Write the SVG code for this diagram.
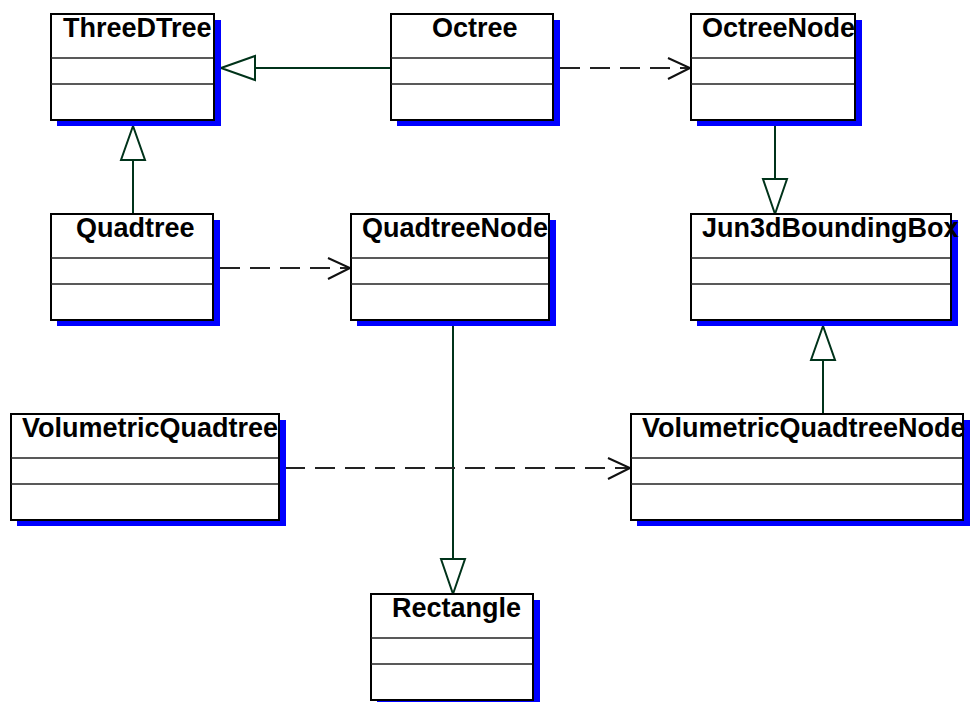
<svg xmlns="http://www.w3.org/2000/svg" width="979" height="702" viewBox="0 0 979 702">
<style>
.shadow{fill:#0000ff;stroke:none}
.box{fill:#ffffff;stroke:#000000;stroke-width:2}
.div{stroke:#222222;stroke-width:1.5}
.name{font-family:"Liberation Sans",Arial,sans-serif;font-weight:bold;font-size:27px;fill:#000000}
.gen{stroke:#00331a;stroke-width:2;fill:none}
.tri{stroke:#00331a;stroke-width:2;fill:#ffffff}
.dep{stroke:#222222;stroke-width:2;fill:none;stroke-dasharray:20,10}
.head{stroke:#111111;stroke-width:2;fill:none}
</style>
<rect width="979" height="702" fill="#ffffff"/>
<g id="connectors">
  <!-- Octree -> ThreeDTree -->
  <line class="gen" x1="255" y1="68" x2="391" y2="68"/>
  <polygon class="tri" points="221,68 255,56 255,80"/>
  <!-- Quadtree -> ThreeDTree -->
  <line class="gen" x1="133" y1="160" x2="133" y2="214"/>
  <polygon class="tri" points="133,126 121,160 145,160"/>
  <!-- OctreeNode -> Jun3dBoundingBox -->
  <line class="gen" x1="775" y1="126" x2="775" y2="179"/>
  <polygon class="tri" points="775,214 763,179 787,179"/>
  <!-- VolumetricQuadtreeNode -> Jun3dBoundingBox -->
  <line class="gen" x1="823" y1="360" x2="823" y2="414"/>
  <polygon class="tri" points="823,326 811,360 835,360"/>
  <!-- QuadtreeNode -> Rectangle -->
  <line class="gen" x1="453" y1="326" x2="453" y2="559"/>
  <polygon class="tri" points="453,594 441,559 465,559"/>
  <!-- Octree ..> OctreeNode -->
  <line class="dep" x1="560" y1="68" x2="690" y2="68"/>
  <polyline class="head" points="668,58 690,68 668,79"/>
  <!-- Quadtree ..> QuadtreeNode -->
  <line class="dep" x1="220" y1="268" x2="350" y2="268"/>
  <polyline class="head" points="328,258 350,268 328,279"/>
  <!-- VolumetricQuadtree ..> VolumetricQuadtreeNode -->
  <line class="dep" x1="285" y1="468" x2="630" y2="468"/>
  <polyline class="head" points="608,458 630,468 608,479"/>
</g>
<g id="ThreeDTree">
  <rect class="shadow" x="57" y="20" width="164" height="106"/>
  <rect class="box" x="51" y="14" width="163" height="106"/>
  <line class="div" x1="51" y1="58" x2="213" y2="58"/>
  <line class="div" x1="51" y1="84" x2="213" y2="84"/>
  <text class="name" x="63" y="37">ThreeDTree</text>
</g>
<g id="Octree">
  <rect class="shadow" x="397" y="20" width="163" height="106"/>
  <rect class="box" x="391" y="14" width="162" height="106"/>
  <line class="div" x1="391" y1="58" x2="552" y2="58"/>
  <line class="div" x1="391" y1="84" x2="552" y2="84"/>
  <text class="name" x="432" y="37">Octree</text>
</g>
<g id="OctreeNode">
  <rect class="shadow" x="697" y="20" width="165" height="106"/>
  <rect class="box" x="691" y="14" width="164" height="106"/>
  <line class="div" x1="691" y1="58" x2="854" y2="58"/>
  <line class="div" x1="691" y1="84" x2="854" y2="84"/>
  <text class="name" x="702" y="37">OctreeNode</text>
</g>
<g id="Quadtree">
  <rect class="shadow" x="57" y="220" width="163" height="106"/>
  <rect class="box" x="51" y="214" width="162" height="106"/>
  <line class="div" x1="51" y1="258" x2="212" y2="258"/>
  <line class="div" x1="51" y1="284" x2="212" y2="284"/>
  <text class="name" x="76" y="237">Quadtree</text>
</g>
<g id="QuadtreeNode">
  <rect class="shadow" x="357" y="220" width="199" height="106"/>
  <rect class="box" x="351" y="214" width="198" height="106"/>
  <line class="div" x1="351" y1="258" x2="548" y2="258"/>
  <line class="div" x1="351" y1="284" x2="548" y2="284"/>
  <text class="name" x="362" y="237">QuadtreeNode</text>
</g>
<g id="Jun3dBoundingBox">
  <rect class="shadow" x="697" y="220" width="261" height="106"/>
  <rect class="box" x="691" y="214" width="260" height="106"/>
  <line class="div" x1="691" y1="258" x2="950" y2="258"/>
  <line class="div" x1="691" y1="284" x2="950" y2="284"/>
  <text class="name" x="702" y="237">Jun3dBoundingBox</text>
</g>
<g id="VolumetricQuadtree">
  <rect class="shadow" x="17" y="420" width="269" height="106"/>
  <rect class="box" x="11" y="414" width="268" height="106"/>
  <line class="div" x1="11" y1="458" x2="278" y2="458"/>
  <line class="div" x1="11" y1="484" x2="278" y2="484"/>
  <text class="name" x="22" y="437">VolumetricQuadtree</text>
</g>
<g id="VolumetricQuadtreeNode">
  <rect class="shadow" x="637" y="420" width="333" height="106"/>
  <rect class="box" x="631" y="414" width="332" height="106"/>
  <line class="div" x1="631" y1="458" x2="962" y2="458"/>
  <line class="div" x1="631" y1="484" x2="962" y2="484"/>
  <text class="name" x="642" y="437">VolumetricQuadtreeNode</text>
</g>
<g id="Rectangle">
  <rect class="shadow" x="377" y="600" width="163" height="106"/>
  <rect class="box" x="371" y="594" width="162" height="106"/>
  <line class="div" x1="371" y1="638" x2="532" y2="638"/>
  <line class="div" x1="371" y1="664" x2="532" y2="664"/>
  <text class="name" x="392" y="617">Rectangle</text>
</g>
</svg>
